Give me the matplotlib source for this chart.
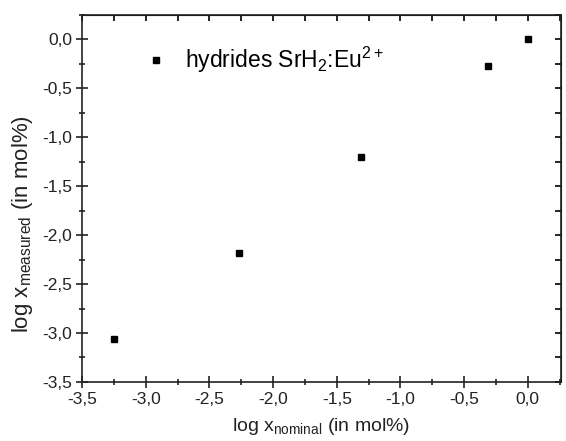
import numpy as np
import matplotlib.pyplot as plt
from matplotlib.ticker import MultipleLocator, FuncFormatter

plt.rcParams['font.family'] = ['Liberation Sans', 'DejaVu Sans']
plt.rcParams['mathtext.fontset'] = 'custom'
plt.rcParams['mathtext.rm'] = 'Liberation Sans'
plt.rcParams['mathtext.it'] = 'Liberation Sans'

# data
log_nominal = [-3.25, -2.27, -1.31, -0.31, 0.0]
log_measured = [-3.06, -2.18, -1.20, -0.27, 0.0]
series_label = r'hydrides SrH$_\mathrm{2}$:Eu$^\mathrm{2+}$'

fig = plt.figure(figsize=(5.66, 4.41), dpi=100)
ax = fig.add_axes([0.145, 0.134, 0.846, 0.832])

ax.plot(log_nominal, log_measured, 's', color='black', markersize=5, label=series_label)

ax.set_xlim(-3.5, 0.26)
ax.set_ylim(-3.5, 0.25)

comma = FuncFormatter(lambda v, p: ('%.1f' % v).replace('.', ','))
ax.xaxis.set_major_locator(MultipleLocator(0.5))
ax.xaxis.set_minor_locator(MultipleLocator(0.25))
ax.yaxis.set_major_locator(MultipleLocator(0.5))
ax.yaxis.set_minor_locator(MultipleLocator(0.25))
ax.xaxis.set_major_formatter(comma)
ax.yaxis.set_major_formatter(comma)

ax.tick_params(which='both', direction='inout', top=False, right=False,
               width=1.2, labelsize=12.5, color='#222222', labelcolor='#222222')
ax.tick_params(which='major', length=8, pad=3)
ax.tick_params(which='minor', length=5)

# inward ticks on top and right
ax2 = ax.secondary_xaxis('top')
ax2.xaxis.set_major_locator(MultipleLocator(0.5))
ax2.xaxis.set_minor_locator(MultipleLocator(0.25))
ax2.tick_params(which='both', direction='in', length=4, width=1.2, labeltop=False)
ay2 = ax.secondary_yaxis('right')
ay2.yaxis.set_major_locator(MultipleLocator(0.5))
ay2.yaxis.set_minor_locator(MultipleLocator(0.25))
ay2.tick_params(which='both', direction='in', length=4, width=1.2, labelright=False)

for s in ax.spines.values():
    s.set_linewidth(1.2)
    s.set_color('#222222')

ax.set_xlabel(r'log x$_\mathrm{nominal}$ (in mol%)', fontsize=14, labelpad=7, color='#222222')
ax.set_ylabel(r'log x$_\mathrm{measured}$ (in mol%)', fontsize=16, color='#222222')
ax.yaxis.set_label_coords(-0.098, 0.43)

ax.legend(loc='center left', bbox_to_anchor=(0.131, 0.877), frameon=False,
          fontsize=16.5, handlelength=1.0, handletextpad=0.75, borderpad=0,
          borderaxespad=0)

fig.savefig('out.png', dpi=100)
